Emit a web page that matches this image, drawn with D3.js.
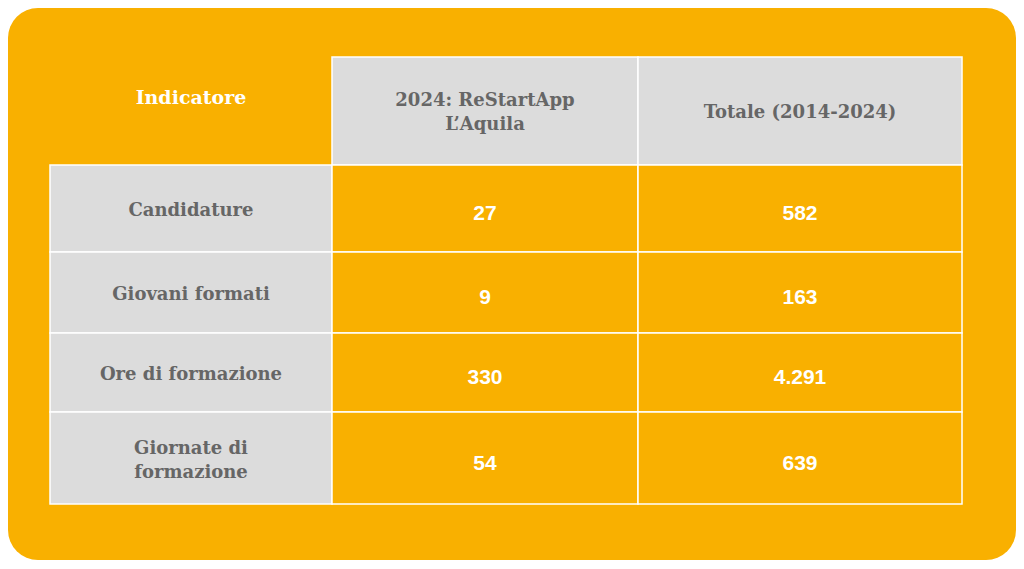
<!DOCTYPE html><html><head><meta charset="utf-8"><script src="https://cdn.jsdelivr.net/npm/d3@7"></script>
<style>body{margin:0;background:#fff}</style></head><body><svg id="c" width="1024" height="569"></svg>
<script>
const headers=["Indicatore","2024: ReStartApp\nL’Aquila","Totale (2014-2024)"];
const indicators=["Candidature","Giovani formati","Ore di formazione","Giornate di\nformazione"];
const values2024=["27","9","330","54"];
const valuesTotal=["582","163","4.291","639"];
const svg=d3.select("#c");
const OR="#F9B000",GR="#DCDCDC";
svg.append("rect").attr("x",8).attr("y",8).attr("width",1008).attr("height",552).attr("rx",30).attr("fill",OR);
const xs=[50,332,638,962], ys=[57,165,252,333,412,504];
const serif="'DejaVu Serif', serif", sans="'Liberation Sans', Arial, sans-serif";
function txt(x,y,s,fam,col,size){
  const lines=s.split("\n");const lh=size*1.3;
  const t=svg.append("text").attr("x",x).attr("text-anchor","middle").attr("font-family",fam).attr("font-weight","bold").attr("font-size",size).attr("fill",col);
  lines.forEach((l,i)=>t.append("tspan").attr("x",x).attr("y",y+(i-(lines.length-1)/2)*lh+size*0.38).text(l));
}
function cell(c,r,fill,s,fam,col,size,dy=0){
  if(fill) svg.append("rect").attr("x",xs[c]).attr("y",ys[r]).attr("width",xs[c+1]-xs[c]).attr("height",ys[r+1]-ys[r]).attr("fill",fill).attr("stroke","#fff").attr("stroke-width",1.5);
  txt((xs[c]+xs[c+1])/2,(ys[r]+ys[r+1])/2+dy,s,fam,col,size);
}
cell(0,0,null,headers[0],serif,"#fff",19,-14);
cell(1,0,GR,headers[1],serif,"#666",18);
cell(2,0,GR,headers[2],serif,"#666",18);
indicators.forEach((d,i)=>{
  cell(0,i+1,GR,d,serif,"#666",18,1);
  cell(1,i+1,OR,values2024[i],sans,"#fff",21,4);
  cell(2,i+1,OR,valuesTotal[i],sans,"#fff",21,4);
});
</script></body></html>
